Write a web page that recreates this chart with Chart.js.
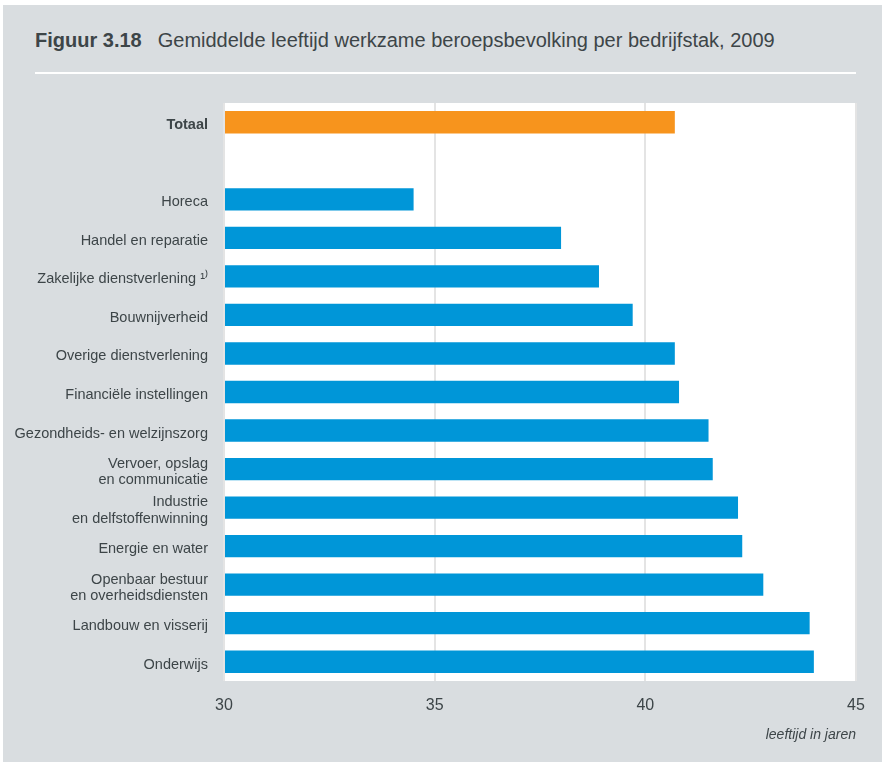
<!DOCTYPE html>
<html>
<head>
<meta charset="utf-8">
<script src="https://cdn.jsdelivr.net/npm/chart.js@4/dist/chart.umd.min.js"></script>
<style>
  html, body { margin: 0; padding: 0; background: #fff; }
  #panel {
    position: absolute; left: 3px; top: 5px; width: 879px; height: 757px;
    background: #d9dde0;
  }
  #title {
    position: absolute; left: 35px; top: 29px;
    font-family: "Liberation Sans Narrow", "Liberation Sans", sans-serif;
    font-size: 20px; color: #3d4548; white-space: nowrap;
  }
  #title b { margin-right: 16px; }
  #rule {
    position: absolute; left: 35px; top: 72px; width: 821px; height: 2px;
    background: #fff;
  }
  #wrap { position: absolute; left: 0; top: 0; width: 882px; height: 762px; }
</style>
</head>
<body>
<div id="panel"></div>
<div id="title"><b>Figuur 3.18</b>Gemiddelde leeftijd werkzame beroepsbevolking per bedrijfstak, 2009</div>
<div id="rule"></div>
<div id="wrap"><canvas id="chart" width="882" height="762"></canvas></div>
<script>
// ---------- data ----------
const CATEGORIES = [
  "Totaal",
  "",
  "Horeca",
  "Handel en reparatie",
  "Zakelijke dienstverlening \u00B9\u207E",
  "Bouwnijverheid",
  "Overige dienstverlening",
  "Financiële instellingen",
  "Gezondheids- en welzijnszorg",
  ["Vervoer, opslag", "en communicatie"],
  ["Industrie", "en delfstoffenwinning"],
  "Energie en water",
  ["Openbaar bestuur", "en overheidsdiensten"],
  "Landbouw en visserij",
  "Onderwijs",
];
const AGES = [40.7, null, 34.5, 38.0, 38.9, 39.7, 40.7, 40.8, 41.5, 41.6, 42.2, 42.3, 42.8, 43.9, 44.0];
const X_TICKS = [30, 35, 40, 45];
const X_TITLE = "leeftijd in jaren";

const ORANGE = '#f7941d';
const BLUE   = '#0096d8';
const TEXT   = '#3d4548';
const FONT   = '"Liberation Sans Narrow", "Liberation Sans", sans-serif';

// white plot background
const plotBg = {
  id: 'plotBg',
  beforeDraw(chart) {
    const { ctx, chartArea: a } = chart;
    ctx.save();
    ctx.fillStyle = '#ffffff';
    ctx.fillRect(a.left, a.top, a.right - a.left, a.bottom - a.top);
    ctx.restore();
  }
};

new Chart(document.getElementById('chart').getContext('2d'), {
  type: 'bar',
  data: {
    labels: CATEGORIES,
    datasets: [{
      data: AGES,
      backgroundColor: AGES.map((v, i) => i === 0 ? ORANGE : BLUE),
      borderWidth: 0,
      barPercentage: 0.58,
      categoryPercentage: 1.0,
      base: 30,
    }]
  },
  options: {
    indexAxis: 'y',
    responsive: false,
    animation: false,
    layout: { padding: { top: 103, right: 26, left: 0, bottom: 14 } },
    plugins: { legend: { display: false }, tooltip: { enabled: false } },
    scales: {
      x: {
        min: 30, max: 45,
        afterBuildTicks: (s) => { s.ticks = X_TICKS.map(v => ({ value: v })); },
        grid: { color: '#e4e4e4', lineWidth: 2, drawTicks: false },
        border: { display: false },
        ticks: { color: TEXT, font: { family: FONT, size: 16 }, padding: 15 },
        title: {
          display: true, text: X_TITLE, align: 'end', color: TEXT,
          font: { family: FONT, size: 14, style: 'italic' }, padding: { top: 0 }
        },
        afterFit: (s) => { s.height = 67; },
      },
      y: {
        grid: { display: false },
        border: { display: false },
        ticks: {
          color: TEXT,
          padding: 8,
          labelOffset: 3,
          font: (c) => ({ family: FONT, size: 14.5, weight: c.index === 0 ? 'bold' : 'normal', lineHeight: 1.12 }),
        },
        afterFit: (s) => { s.width = 224; },
      }
    }
  },
  plugins: [plotBg]
});
</script>
</body>
</html>
